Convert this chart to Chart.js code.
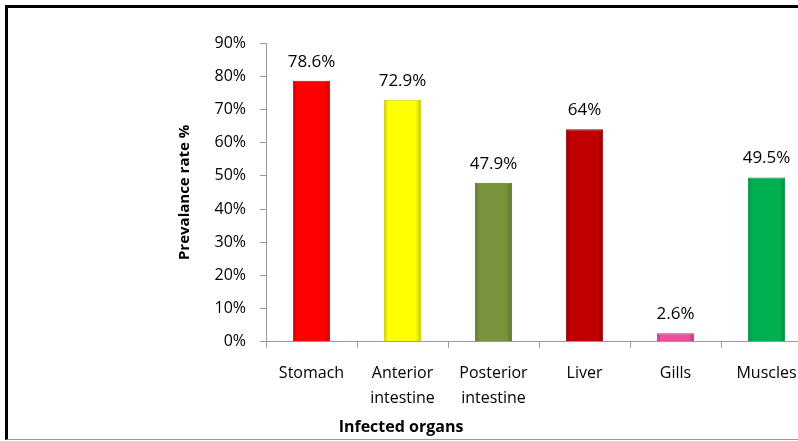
<!DOCTYPE html>
<html>
<head>
<meta charset="utf-8">
<title>Prevalance rate by infected organ</title>
<script src="https://cdn.jsdelivr.net/npm/chart.js@4.4.0/dist/chart.umd.min.js"></script>
<style>
  html, body { margin: 0; padding: 0; background: #fff; overflow: hidden; }
  #wrap { position: relative; width: 798px; height: 441px; overflow: hidden; }
  #chart_prev { position: absolute; left: -10px; top: 0; }
  #frame {
    position: absolute; left: 5px; top: 5px; width: 800px; height: 431px;
    border-left: 3px solid #000; border-top: 3px solid #000; border-bottom: 1px solid #999;
    pointer-events: none;
  }
</style>
</head>
<body>
<div id="wrap">
  <canvas id="chart_prev" width="822" height="441"></canvas>
  <div id="frame"></div>
</div>
<script>
// data
var organs = ['Stomach', ['Anterior', 'intestine'], ['Posterior', 'intestine'], 'Liver', 'Gills', 'Muscles'];
var prevalence = [78.6, 72.9, 47.9, 64, 2.6, 49.5];
var yMax = 90;
var yStep = 10;

// styles
var barColors   = ['#ff0000', '#ffff00', '#77933c', '#c00000', '#ec4f9c', '#00b050'];
var barBorders  = ['#c00000', '#c8c800', '#5a7030', '#900000', '#b03070', '#008a3e'];
var barPct = 0.41;

Chart.defaults.font.family = "'Open Sans', sans-serif";
Chart.defaults.color = '#000';

// darken a #rrggbb colour by factor f
function shade(hex, f) {
  var n = parseInt(hex.slice(1), 16);
  var r = Math.round(((n >> 16) & 255) * f);
  var g = Math.round(((n >> 8) & 255) * f);
  var b = Math.round((n & 255) * f);
  return 'rgb(' + r + ',' + g + ',' + b + ')';
}

// soft bevel across each bar, built from the x scale
function barFill(context) {
  var chart = context.chart;
  var xs = chart.scales.x;
  var base = barColors[context.dataIndex];
  if (!chart.chartArea || !xs) return base;
  var cx = xs.getPixelForValue(context.dataIndex);
  var half = (chart.chartArea.width / organs.length) * barPct / 2;
  var g = chart.ctx.createLinearGradient(cx - half, 0, cx + half, 0);
  g.addColorStop(0, shade(base, 0.82));
  g.addColorStop(0.12, base);
  g.addColorStop(0.85, base);
  g.addColorStop(1, shade(base, 0.78));
  return g;
}

// value labels above the bars
var valueLabels = {
  id: 'valueLabels',
  afterDatasetsDraw: function (chart) {
    var ctx = chart.ctx;
    var meta = chart.getDatasetMeta(0);
    ctx.save();
    ctx.font = "17px 'Open Sans', sans-serif";
    ctx.fillStyle = '#000';
    ctx.textAlign = 'center';
    ctx.textBaseline = 'middle';
    meta.data.forEach(function (bar, i) {
      ctx.fillText(prevalence[i] + '%', bar.x, bar.y - 19);
    });
    ctx.restore();
  }
};

var ctx1 = document.getElementById('chart_prev').getContext('2d');
var barChart = new Chart(ctx1, {
  type: 'bar',
  data: {
    labels: organs,
    datasets: [{
      data: prevalence,
      backgroundColor: barFill,
      borderColor: barBorders,
      borderWidth: 1,
      borderSkipped: 'bottom',
      barPercentage: barPct,
      categoryPercentage: 1
    }]
  },
  options: {
    responsive: false,
    animation: false,
    layout: {
      padding: { top: 43, right: 0, bottom: 0, left: 0 }
    },
    plugins: {
      legend: { display: false },
      tooltip: { enabled: false },
      title: {
        display: true,
        position: 'bottom',
        text: 'Infected organs',
        color: '#000',
        font: { size: 16, weight: 'bold' },
        padding: { top: 0, bottom: 4 }
      }
    },
    scales: {
      x: {
        grid: {
          offset: true,
          drawOnChartArea: false,
          drawTicks: true,
          tickLength: 6,
          color: '#9a9a9a'
        },
        border: { color: '#9a9a9a', width: 1 },
        ticks: {
          padding: 13,
          maxRotation: 0,
          autoSkip: false,
          font: { size: 16, lineHeight: 1.5625 }
        },
        afterFit: function (scale) { scale.height = 76; }
      },
      y: {
        min: 0,
        max: yMax,
        grid: {
          drawOnChartArea: false,
          drawTicks: true,
          tickLength: 6,
          color: '#9a9a9a'
        },
        border: { color: '#9a9a9a', width: 1 },
        ticks: {
          stepSize: yStep,
          padding: 14,
          font: { size: 16 },
          callback: function (v) { return v + '%'; }
        },
        title: {
          display: true,
          text: 'Prevalance rate %',
          color: '#000',
          font: { size: 15, weight: 'bold' },
          padding: { top: 186, bottom: 0 }
        },
        afterFit: function (scale) { scale.width = 276; }
      }
    }
  },
  plugins: [valueLabels]
});
</script>
</body>
</html>
